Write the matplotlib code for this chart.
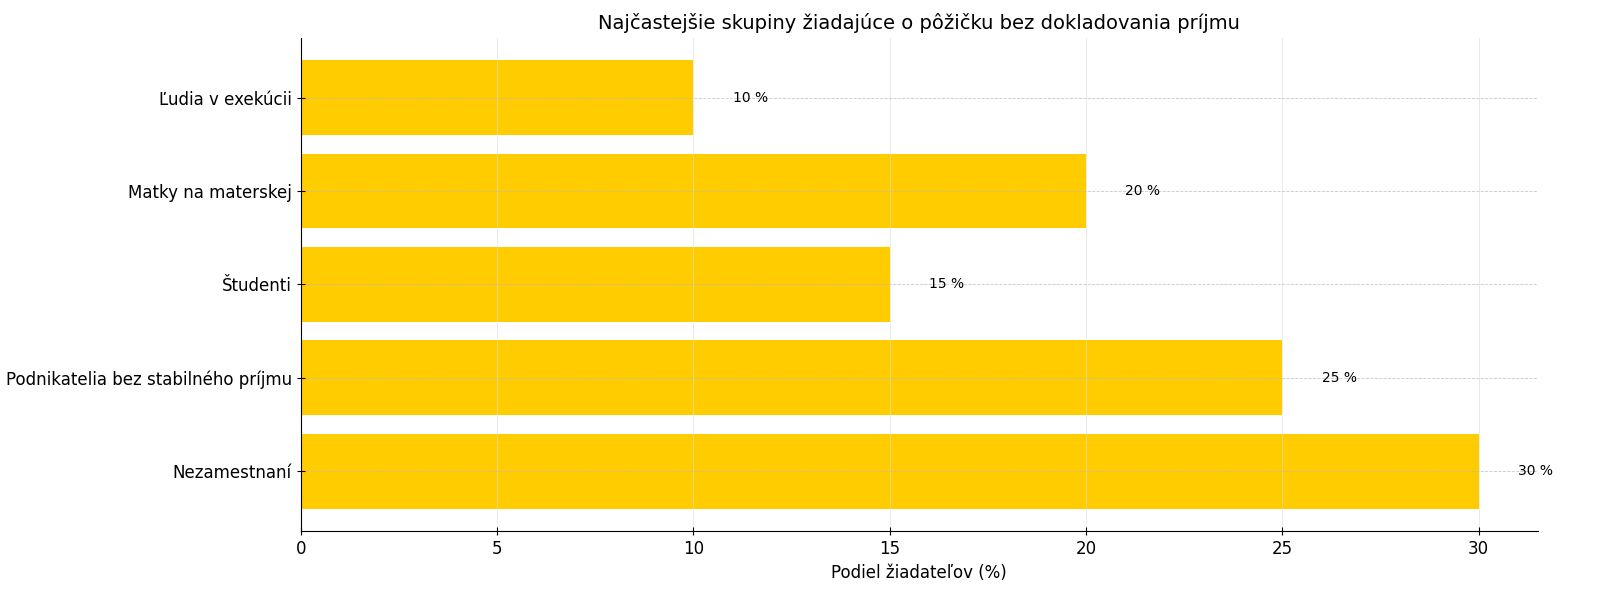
import matplotlib.pyplot as plt

categories = ['Nezamestnaní', 'Podnikatelia bez stabilného príjmu', 'Študenti',
              'Matky na materskej', 'Ľudia v exekúcii']
shares = [30, 25, 15, 20, 10]

fig, ax = plt.subplots(figsize=(16, 6), dpi=100)

bars = ax.barh(categories, shares, color='#FFCC00', height=0.8)

for b, v in zip(bars, shares):
    ax.text(v + 1, b.get_y() + b.get_height() / 2, f'{v} %',
            va='center', ha='left', fontsize=10)

ax.set_title('Najčastejšie skupiny žiadajúce o pôžičku bez dokladovania príjmu', fontsize=14)
ax.set_xlabel('Podiel žiadateľov (%)', fontsize=12)
ax.tick_params(axis='both', labelsize=12, direction='inout', length=6)
ax.set_xlim(0, 31.5)

ax.spines['top'].set_visible(False)
ax.spines['right'].set_visible(False)
ax.grid(axis='x', color='#dddddd', linewidth=0.6, alpha=0.7)
ax.grid(axis='y', color='#bbbbbb', linestyle='--', linewidth=0.6, alpha=0.8)

plt.subplots_adjust(left=0.188, right=0.961, top=0.937, bottom=0.115)
plt.savefig('out.png')
plt.close()
